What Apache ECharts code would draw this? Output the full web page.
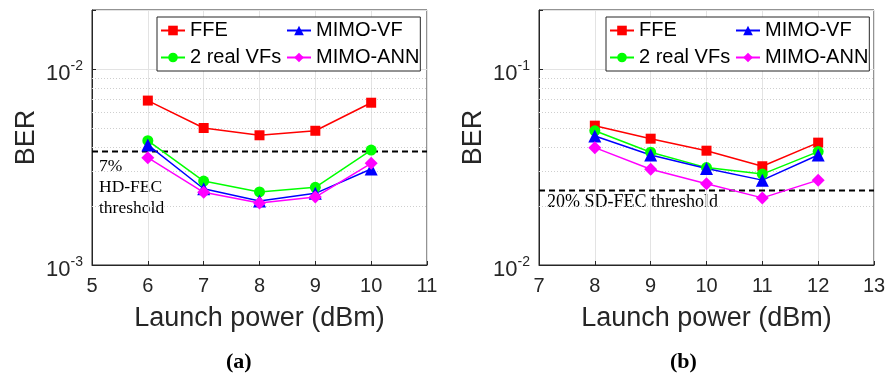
<!DOCTYPE html>
<html>
<head>
<meta charset="utf-8">
<script src="https://cdn.jsdelivr.net/npm/echarts@6/dist/echarts.min.js"></script>
<style>
  html, body { margin: 0; padding: 0; background: #fff; }
  #chart { width: 889px; height: 374px; }
</style>
</head>
<body>
<div id="chart"></div>
<script>
// panel (a)
const powerA = [6, 7, 8, 9, 10]
const ffeA = [0.0069, 0.0050, 0.00459, 0.00484, 0.00673]
const realVfA = [0.00431, 0.00268, 0.00236, 0.00249, 0.00386]
const mimoVfA = [0.0041, 0.00245, 0.00212, 0.00232, 0.00309]
const mimoAnnA = [0.00353, 0.00235, 0.00207, 0.00222, 0.0033]
const thresholdA = 0.0038

// panel (b)
const powerB = [8, 9, 10, 11, 12]
const ffeB = [0.0514, 0.0441, 0.0383, 0.0319, 0.0421]
const realVfB = [0.0484, 0.0376, 0.0314, 0.0291, 0.0379]
const mimoVfB = [0.0455, 0.0364, 0.0311, 0.0271, 0.0364]
const mimoAnnB = [0.0397, 0.0308, 0.026, 0.022, 0.0271]
const thresholdB = 0.024

// minor grid (MATLAB style dotted lines)
const minorA = [0.002, 0.003, 0.004, 0.005, 0.006, 0.007, 0.008, 0.009]
const minorB = [0.02, 0.03, 0.04, 0.05, 0.06, 0.07, 0.08, 0.09]

const names = ['FFE', 'MIMO-VF', '2 real VFs', 'MIMO-ANN']
const axisColor = '#262626'

const chart = echarts.init(document.getElementById('chart'), null, { renderer: 'canvas' })

function pow10Label(v) {
  const e = Math.round(Math.log10(v))
  if (Math.abs(v - Math.pow(10, e)) / v > 1e-6) return ''
  return '{b|10}{s|' + e + '}'
}

function zip(xs, ys) {
  return xs.map((x, i) => [x, ys[i]])
}

function lineSeries(name, idx, xs, ys, symbol, size, color) {
  return {
    name,
    type: 'line',
    xAxisIndex: idx,
    yAxisIndex: idx,
    data: zip(xs, ys),
    symbol,
    symbolSize: size,
    lineStyle: { width: 1.5, color },
    itemStyle: { color },
    z: 3,
  }
}

// horizontal full-width line at each y value, placed by the axis scale
function hLines(idx, xMin, values, style, z) {
  return {
    type: 'custom',
    xAxisIndex: idx,
    yAxisIndex: idx,
    silent: true,
    z,
    data: values.map((v) => [xMin, v]),
    renderItem(params, api) {
      const cs = params.coordSys
      const y = Math.round(api.coord([api.value(0), api.value(1)])[1]) + 0.5
      return {
        type: 'line',
        shape: { x1: cs.x, y1: y, x2: cs.x + cs.width, y2: y },
        style,
      }
    },
  }
}

function panelSeries(idx, xMin, xs, ffe, realVf, mimoVf, mimoAnn, threshold, minor) {
  return [
    hLines(idx, xMin, minor, { stroke: '#cfcfcf', lineWidth: 1, lineDash: [1, 2] }, 1),
    hLines(idx, xMin, [threshold], { stroke: '#000', lineWidth: 2, lineDash: [6, 4] }, 2),
    lineSeries('FFE', idx, xs, ffe, 'rect', 10, '#ff0000'),
    lineSeries('2 real VFs', idx, xs, realVf, 'circle', 11, '#00ff00'),
    lineSeries('MIMO-VF', idx, xs, mimoVf, 'triangle', 13, '#0000ff'),
    lineSeries('MIMO-ANN', idx, xs, mimoAnn, 'diamond', 13, '#ff00ff'),
  ]
}

function xAxis(idx, min, max) {
  return {
    type: 'value',
    gridIndex: idx,
    min,
    max,
    interval: 1,
    name: 'Launch power (dBm)',
    nameLocation: 'middle',
    nameGap: 40,
    nameTextStyle: { fontSize: 27, color: axisColor, fontFamily: 'Liberation Sans' },
    axisLine: { lineStyle: { color: axisColor } },
    axisTick: { inside: true, length: 4, lineStyle: { color: axisColor } },
    axisLabel: { fontSize: 20, color: axisColor, margin: 11, fontFamily: 'Liberation Sans' },
    splitLine: { show: true, lineStyle: { color: '#e3e3e3' } },
  }
}

function yAxis(idx, min, max) {
  return {
    type: 'log',
    logBase: 10,
    gridIndex: idx,
    min,
    max,
    name: 'BER',
    nameLocation: 'middle',
    nameGap: 52,
    nameTextStyle: { fontSize: 27, color: axisColor, fontFamily: 'Liberation Sans' },
    axisLine: { show: true, lineStyle: { color: axisColor } },
    axisTick: { inside: true, length: 4, lineStyle: { color: axisColor } },
    axisLabel: {
      margin: 9,
      formatter: pow10Label,
      rich: {
        b: { fontSize: 22, color: axisColor, fontFamily: 'Liberation Sans', lineHeight: 32, verticalAlign: 'bottom' },
        s: { fontSize: 14, color: axisColor, fontFamily: 'Liberation Sans', lineHeight: 14, verticalAlign: 'top', padding: [6, 0, 0, 0] },
      },
    },
    splitLine: { show: true, lineStyle: { color: '#e3e3e3' } },
  }
}

function legend(left) {
  return {
    data: names,
    left,
    top: 17,
    width: 265,
    orient: 'horizontal',
    itemWidth: 24,
    itemHeight: 12,
    itemGap: 4,
    padding: [2, 1, 2, 3],
    borderColor: axisColor,
    borderWidth: 1,
    backgroundColor: '#fff',
    textStyle: { fontSize: 20, color: '#000', width: 92, lineHeight: 23, fontFamily: 'Liberation Sans' },
    z: 5,
  }
}

chart.setOption({
  animation: false,
  grid: [
    { left: 92, right: 462, top: 10, height: 255, show: true, borderColor: axisColor, borderWidth: 1 },
    { left: 539, right: 15, top: 10, height: 255, show: true, borderColor: axisColor, borderWidth: 1 },
  ],
  xAxis: [xAxis(0, 5, 11), xAxis(1, 7, 13)],
  yAxis: [yAxis(0, 0.001, 0.02), yAxis(1, 0.01, 0.2)],
  legend: [legend(157), legend(606)],
  series: [
    ...panelSeries(0, 5, powerA, ffeA, realVfA, mimoVfA, mimoAnnA, thresholdA, minorA),
    ...panelSeries(1, 7, powerB, ffeB, realVfB, mimoVfB, mimoAnnB, thresholdB, minorB),
  ],
  graphic: [
    {
      type: 'text', left: 99, top: 156,
      style: { text: '7%\nHD-FEC\nthreshold', font: '17.5px "Liberation Serif"', lineHeight: 21, fill: '#000' },
    },
    {
      type: 'text', left: 547, top: 193,
      style: { text: '20% SD-FEC threshold', font: '18px "Liberation Serif"', fill: '#000' },
    },
    {
      type: 'text', left: 226, top: 351,
      style: { text: '(a)', font: 'bold 22px "Liberation Serif"', fill: '#000' },
    },
    {
      type: 'text', left: 670, top: 351,
      style: { text: '(b)', font: 'bold 22px "Liberation Serif"', fill: '#000' },
    },
  ],
})
</script>
</body>
</html>
